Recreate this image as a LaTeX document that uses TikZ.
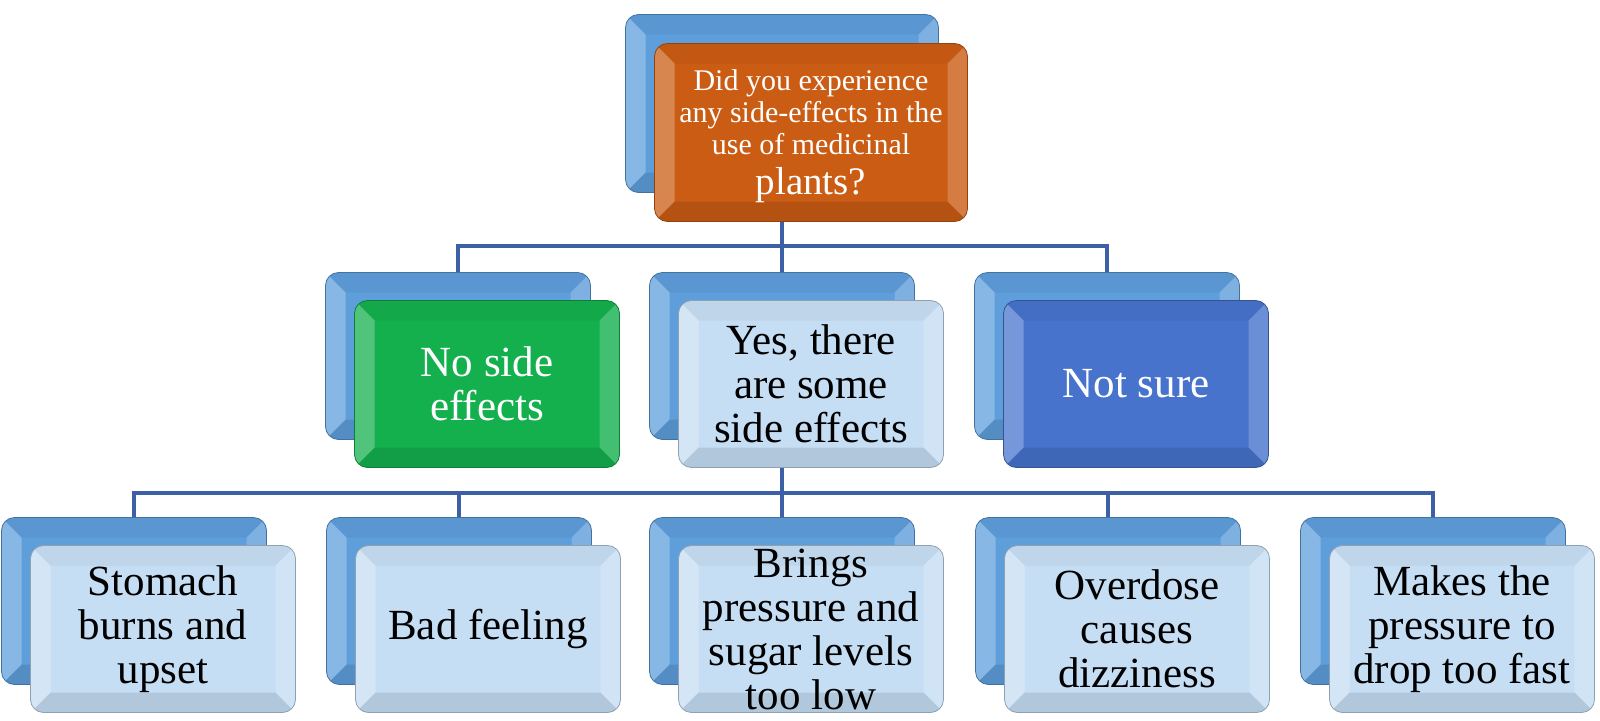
\documentclass[tikz,border=0pt]{standalone}
\usepackage{fontspec}
\setmainfont{Liberation Serif}
\usetikzlibrary{calc}
\pgfdeclarelayer{bg}
\pgfsetlayers{bg,main}
\definecolor{backblue}{HTML}{5E9EDB}
\definecolor{orangeb}{HTML}{CB5C14}
\definecolor{greenb}{HTML}{14B04E}
\definecolor{blueb}{HTML}{4773CD}
\definecolor{lightb}{HTML}{C6DEF4}
\definecolor{connc}{HTML}{3D5FA6}
\tikzset{
  bevelbox/.style={rounded corners=13pt, inner sep=0pt, align=center,
    draw=#1!72!black, line width=0.8pt, fill=#1,
    path picture={
      \coordinate (pSW) at (path picture bounding box.south west);
      \coordinate (pNE) at (path picture bounding box.north east);
      \coordinate (pNW) at (path picture bounding box.north west);
      \coordinate (pSE) at (path picture bounding box.south east);
      \fill[sharp corners,white,opacity=0.26] (pSW) -- (pNW) -- ([shift={(20pt,-20pt)}]pNW) -- ([shift={(20pt,20pt)}]pSW) -- cycle;
      \fill[sharp corners,white,opacity=0.20] (pSE) -- (pNE) -- ([shift={(-20pt,-20pt)}]pNE) -- ([shift={(-20pt,20pt)}]pSE) -- cycle;
      \fill[sharp corners,black,opacity=0.04] (pNW) -- (pNE) -- ([shift={(-20pt,-20pt)}]pNE) -- ([shift={(20pt,-20pt)}]pNW) -- cycle;
      \fill[sharp corners,black,opacity=0.10] (pSW) -- (pSE) -- ([shift={(-20pt,20pt)}]pSE) -- ([shift={(20pt,20pt)}]pSW) -- cycle;
    }},
  topsize/.style={minimum width=313pt, minimum height=178pt},
  boxsize/.style={minimum width=265pt, minimum height=167pt},
  backbox/.style={bevelbox=backblue},
  midfont/.style={font=\fontsize{43}{44}\selectfont},
  lowfont/.style={font=\fontsize{43}{44}\selectfont},
  boxtext/.style={inner sep=0pt, align=center},
  conn/.style={draw=connc, line width=3.5pt},
}
\begin{document}
\begin{tikzpicture}[x=1pt,y=-1pt]
\useasboundingbox (0,0) rectangle (1600,720);
% top level
\node[backbox, topsize] (tb) at (782,103.5) {};
\node[bevelbox=orangeb, topsize] (tf) at (811,132.5) {};
\node[boxtext, text=white] (tft) at ([yshift=-4pt]tf.center)
  {\fontsize{30}{32}\selectfont Did you experience\\[3pt]
   \fontsize{30}{32}\selectfont any side-effects in the\\[3pt]
   \fontsize{30}{32}\selectfont use of medicinal\\[12pt]
   \fontsize{39}{32}\selectfont plants?};
% middle level
\node[backbox, boxsize] (m1b) at (458,356) {};
\node[backbox, boxsize] (m2b) at (782,356) {};
\node[backbox, boxsize] (m3b) at (1107,356) {};
\node[bevelbox=greenb, boxsize, midfont, text=white] (m1) at (487,384) {No side\\effects};
\node[bevelbox=lightb, boxsize, midfont, text=black] (m2) at (811,384) {Yes, there\\are some\\side effects};
\node[bevelbox=blueb, boxsize, midfont, text=white] (m3) at (1136,384) {Not sure};
% bottom level
\node[backbox, boxsize] (b1b) at (134,601) {};
\node[backbox, boxsize] (b2b) at (459,601) {};
\node[backbox, boxsize] (b3b) at (782,601) {};
\node[backbox, boxsize] (b4b) at (1108,601) {};
\node[backbox, boxsize] (b5b) at (1433,601) {};
\node[bevelbox=lightb, boxsize, lowfont] (b1) at (163,629) {Stomach\\burns and\\upset};
\node[bevelbox=lightb, boxsize, lowfont] (b2) at (488,629) {Bad feeling};
\node[bevelbox=lightb, boxsize] (b3) at (811,629) {};
\node[boxtext, lowfont] (b3t) at (b3.center) {Brings\\pressure and\\sugar levels\\too low};
\node[bevelbox=lightb, boxsize, lowfont] (b4) at (1137,629) {Overdose\\causes\\dizziness};
\node[bevelbox=lightb, boxsize, lowfont] (b5) at (1462,629) {Makes the\\pressure to\\drop too fast};
% connectors
\coordinate (bus1) at (0,246);
\coordinate (bus2) at (0,493);
\begin{pgfonlayer}{bg}
\draw[conn] (tb.south) -- (tb.south |- bus1);
\draw[conn] (m1b.north) |- (tb.south |- bus1) -| (m3b.north);
\draw[conn] (tb.south |- bus1) -- (m2b.north);
\draw[conn] (m2b.south) -- (m2b.south |- bus2);
\draw[conn] (b1b.north) |- (m2b.south |- bus2) -| (b5b.north);
\draw[conn] (b2b.north) -- (b2b.north |- bus2);
\draw[conn] (b3b.north) -- (b3b.north |- bus2);
\draw[conn] (b4b.north) -- (b4b.north |- bus2);
\end{pgfonlayer}
\end{tikzpicture}
\end{document}
